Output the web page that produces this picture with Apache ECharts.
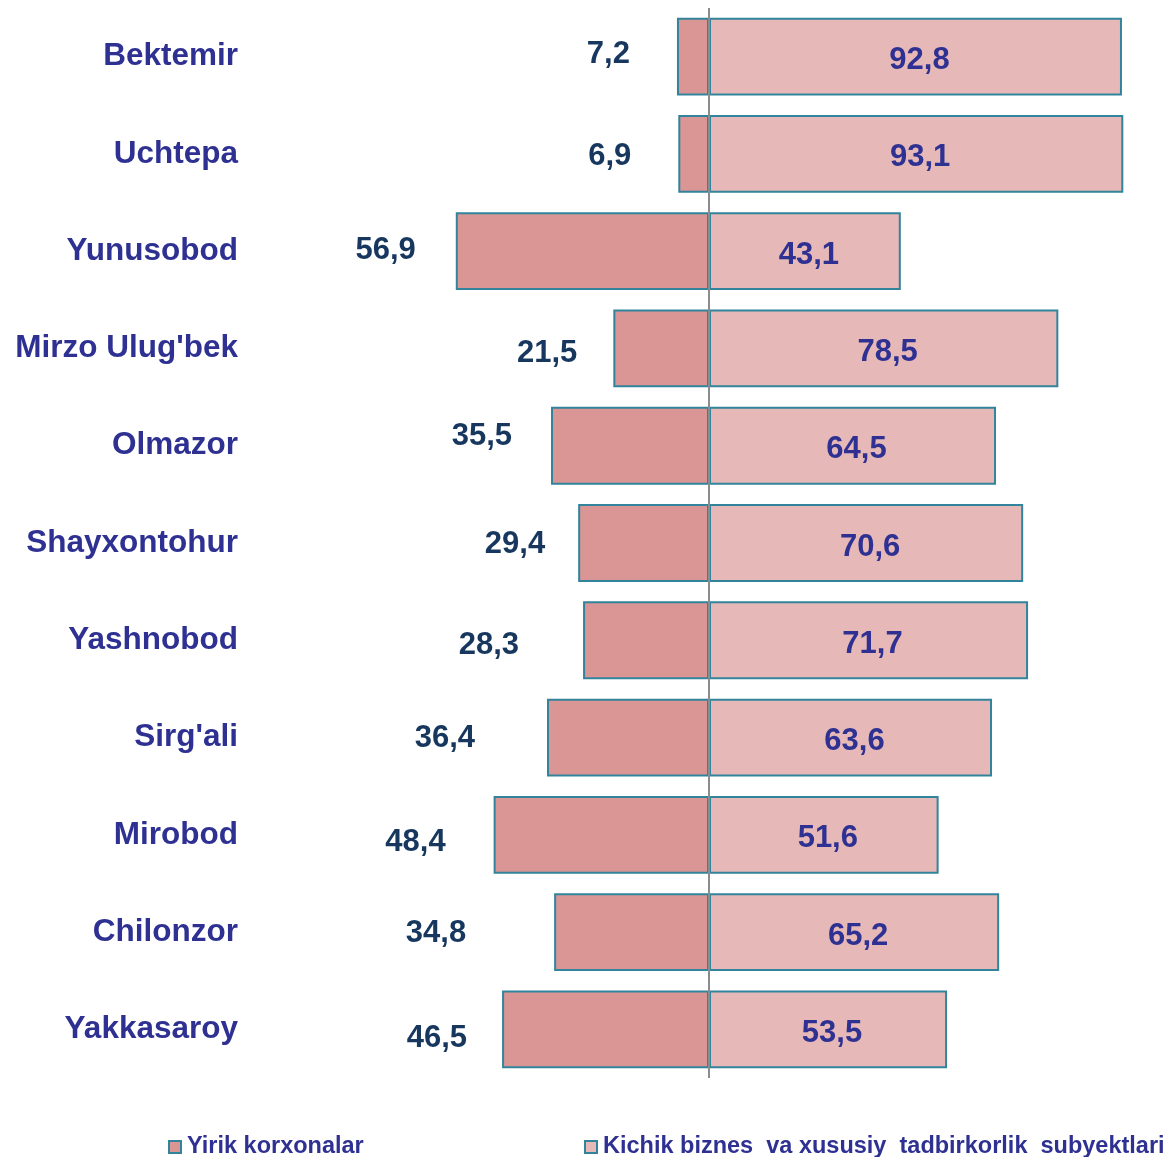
<!DOCTYPE html>
<html>
<head>
<meta charset="utf-8">
<script src="https://cdn.jsdelivr.net/npm/echarts@6/dist/echarts.min.js"></script>
<style>
  html, body { margin: 0; padding: 0; background: #fff; }
  #chart { width: 1167px; height: 1157px; }
</style>
</head>
<body>
<div id="chart"></div>
<script>
// tumanlar (yuqoridan pastga)
const districts = ['Bektemir', 'Uchtepa', 'Yunusobod', "Mirzo Ulug'bek", 'Olmazor', 'Shayxontohur',
    'Yashnobod', "Sirg'ali", 'Mirobod', 'Chilonzor', 'Yakkasaroy'];
const largeShare = [7.2, 6.9, 56.9, 21.5, 35.5, 29.4, 28.3, 36.4, 48.4, 34.8, 46.5];
const smallShare = [92.8, 93.1, 43.1, 78.5, 64.5, 70.6, 71.7, 63.6, 51.6, 65.2, 53.5];
const seriesNames = ['Yirik korxonalar', 'Kichik biznes  va xususiy  tadbirkorlik  subyektlari'];

// label nudges for the left values, as placed in the original picture
const leftShift = [[-7, -2], [-7, 3], [0, -1], [4, 5], [1, -9], [7, 1], [-24, 5], [-32, 1], [-8, 8], [-48, 1], [5, 9]];

const fmt = v => String(Math.abs(v)).replace('.', ',');
const FONT = '"Liberation Sans", Arial, sans-serif';

const legendText = { color: '#2e3192', fontSize: 23.5, fontWeight: 'bold', fontFamily: FONT, padding: [0, 0, 0, 1] };

const chart = echarts.init(document.getElementById('chart'));
chart.setOption({
    backgroundColor: '#fff',
    animation: false,
    grid: { left: 264, right: 13, top: 8, bottom: 79 },
    legend: [
        { data: [seriesNames[0]], left: 163, top: 1130, itemWidth: 12, itemHeight: 12, icon: 'rect', textStyle: legendText },
        { data: [seriesNames[1]], left: 579, top: 1130, itemWidth: 12, itemHeight: 12, icon: 'rect', textStyle: legendText }
    ],
    xAxis: {
        type: 'value', min: -100, max: 100, show: false
    },
    yAxis: {
        type: 'category', inverse: true, data: districts,
        axisLine: { show: false, onZero: false }, axisTick: { show: false },
        axisLabel: { margin: 26, padding: [6, 0, 0, 0], color: '#2e3192', fontSize: 31.5, fontWeight: 'bold', fontFamily: FONT }
    },
    series: [
        {
            name: seriesNames[0], type: 'bar', stack: 'total', barCategoryGap: '20%',
            data: largeShare.map((v, i) => ({
                value: -v,
                label: { offset: leftShift[i] }
            })),
            itemStyle: { color: '#d99694', borderColor: '#31849b', borderWidth: 2 },
            label: {
                show: true, position: 'left', distance: 40, formatter: p => fmt(p.value),
                color: '#17375e', fontSize: 31, fontWeight: 'bold', fontFamily: FONT
            },
            markLine: {
                silent: true, symbol: 'none', label: { show: false },
                lineStyle: { color: '#8c8c8c', width: 2, type: 'solid' },
                data: [{ xAxis: 0 }]
            },
            z: 2
        },
        {
            name: seriesNames[1], type: 'bar', stack: 'total',
            data: smallShare,
            itemStyle: { color: '#e6b8b7', borderColor: '#31849b', borderWidth: 2 },
            label: {
                show: true, position: 'inside', offset: [4, 4], formatter: p => fmt(p.value),
                color: '#2e3192', fontSize: 31, fontWeight: 'bold', fontFamily: FONT
            },
            z: 2
        }
    ]
});
</script>
</body>
</html>
